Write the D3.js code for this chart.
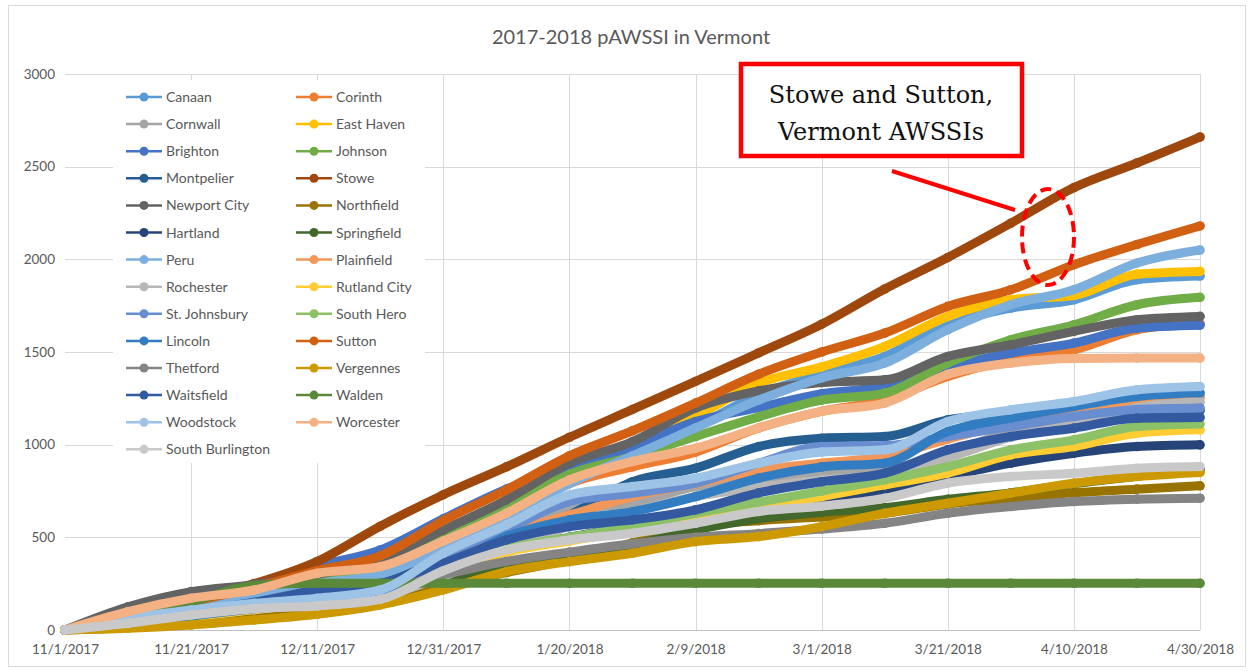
<!DOCTYPE html>
<html>
<head>
<meta charset="utf-8">
<script src="https://cdn.jsdelivr.net/npm/d3@7"></script>
<style>
  html, body { margin: 0; padding: 0; background: #fff; }
  svg { display: block; }
</style>
</head>
<body>
<svg id="chart" width="1252" height="671"></svg>
<script>
// ---------- DATA (every 10 days) ----------
const dates = ["2017-11-01","2017-11-11","2017-11-21","2017-12-01","2017-12-11","2017-12-21","2017-12-31",
  "2018-01-10","2018-01-20","2018-01-30","2018-02-09","2018-02-19","2018-03-01","2018-03-11","2018-03-21",
  "2018-03-31","2018-04-10","2018-04-20","2018-04-30"];

const canaan        = [0,60,130,200,270,330,480,650,830,960,1098,1270,1380,1476,1647,1737,1782,1890,1910];
const corinth       = [0,40,110,190,260,320,460,610,790,880,960,1090,1180,1240,1368,1458,1512,1620,1655];
const cornwall      = [0,40,80,120,160,200,300,500,648,684,774,810,840,864,954,1071,1134,1233,1255];
const eastHaven     = [0,70,150,220,290,360,520,690,870,1000,1152,1332,1420,1530,1692,1782,1805,1920,1935];
const brighton      = [0,70,150,240,345,432,600,760,880,990,1125,1200,1275,1314,1420,1494,1548,1629,1645];
const johnson       = [0,60,130,200,270,330,500,660,840,936,1044,1150,1240,1278,1440,1566,1647,1755,1795];
const montpelier    = [0,50,100,150,200,250,380,480,620,800,873,990,1035,1044,1134,1165,1175,1180,1185];
const stowe         = [0,85,170,250,370,560,730,880,1040,1190,1341,1495,1650,1840,2010,2195,2387,2520,2660];
const newportCity   = [0,125,207,245,300,380,540,702,900,1017,1197,1290,1335,1350,1476,1539,1611,1674,1692];
const northfield    = [0,15,45,85,120,170,240,310,380,470,560,590,610,630,680,710,740,760,778];
const hartland      = [0,45,90,140,190,230,340,440,500,560,610,650,700,756,828,900,954,990,999];
const springfield   = [0,30,70,150,200,240,280,340,400,460,540,600,635,660,705,740,790,830,865];
const peru          = [0,55,120,180,250,300,440,594,790,940,1090,1240,1360,1440,1620,1755,1836,1980,2050];
const plainfield    = [0,25,70,130,180,230,360,520,620,720,790,860,900,936,1030,1116,1180,1240,1270];
const rochester     = [0,30,70,110,140,180,290,430,560,640,720,770,810,840,930,1040,1110,1200,1230];
const rutlandCity   = [0,30,70,110,150,190,310,420,480,540,600,650,720,783,846,945,990,1062,1080];
const stJohnsbury   = [0,45,90,130,170,220,370,540,693,738,792,900,990,995,1044,1098,1152,1190,1198];
const southHero     = [0,30,75,120,160,200,330,440,500,560,630,690,750,810,882,972,1026,1098,1112];
const lincoln       = [0,35,75,115,150,200,330,504,594,639,720,820,880,900,1071,1143,1206,1260,1280];
const sutton        = [0,70,150,230,320,400,590,756,940,1075,1224,1380,1500,1602,1746,1836,1971,2080,2180];
const thetford      = [0,40,90,140,190,240,300,370,420,465,500,520,545,576,630,666,693,706,711];
const vergennes     = [0,10,27,54,85,135,216,315,369,414,477,504,558,630,684,738,792,828,850];
const waitsfield    = [0,50,100,150,216,252,360,486,558,594,648,740,800,846,972,1044,1089,1143,1147];
const walden        = [0,60,150,240,252,252,252,252,252,252,252,252,252,252,252,252,252,252,252];
const woodstock     = [0,63,108,144,171,216,414,567,729,774,819,900,960,972,1125,1188,1233,1296,1314];
const worcester     = [0,99,171,216,306,342,480,630,810,909,981,1090,1180,1224,1380,1440,1465,1467,1467];
const southBurlington = [0,36,81,115,130,165,320,432,486,522,576,639,668,711,792,828,846,873,882];

const seriesNames = ["Canaan","Corinth","Cornwall","East Haven","Brighton","Johnson","Montpelier","Stowe",
  "Newport City","Northfield","Hartland","Springfield","Peru","Plainfield","Rochester","Rutland City",
  "St. Johnsbury","South Hero","Lincoln","Sutton","Thetford","Vergennes","Waitsfield","Walden",
  "Woodstock","Worcester","South Burlington"];
const seriesValues = [canaan,corinth,cornwall,eastHaven,brighton,johnson,montpelier,stowe,newportCity,
  northfield,hartland,springfield,peru,plainfield,rochester,rutlandCity,stJohnsbury,southHero,lincoln,
  sutton,thetford,vergennes,waitsfield,walden,woodstock,worcester,southBurlington];
const seriesColors = ["#5B9BD5","#ED7D31","#A5A5A5","#FFC000","#4472C4","#70AD47","#255E91","#9E480E",
  "#636363","#997300","#264478","#43682B","#7CAFDD","#F1975A","#B7B7B7","#FFCD33","#698ED0","#8CC168",
  "#327DC2","#D26012","#848484","#CC9A00","#335AA1","#5A8A39","#9DC3E6","#F4B183","#C9C9C9"];

const xTickDates = ["2017-11-01","2017-11-21","2017-12-11","2017-12-31","2018-01-20","2018-02-09",
  "2018-03-01","2018-03-21","2018-04-10","2018-04-30"];
const xTickLabels = ["11/1/2017","11/21/2017","12/11/2017","12/31/2017","1/20/2018","2/9/2018",
  "3/1/2018","3/21/2018","4/10/2018","4/30/2018"];
const yTicks = [0,500,1000,1500,2000,2500,3000];
const yTickLabels = ["0","500","1000","1500","2000","2500","3000"];

const titleText = "2017-2018 pAWSSI in Vermont";
const noteLines = ["Stowe and Sutton,", "Vermont AWSSIs"];

// ---------- DRAW ----------
const parse = d3.utcParse("%Y-%m-%d");
const svg = d3.select("#chart");
const font = "Lato, 'Open Sans', sans-serif";
const textCol = "#595959";

const x = d3.scaleUtc().domain([parse("2017-11-01"), parse("2018-04-30")]).range([65, 1200]);
const y = d3.scaleLinear().domain([0, 3000]).range([630, 74]);

// outer chart border
svg.append("rect").attr("x", 8.5).attr("y", 5.5).attr("width", 1237).attr("height", 661)
  .attr("fill", "#fff").attr("stroke", "#D9D9D9").attr("stroke-width", 1);

// title
svg.append("text").attr("x", 631).attr("y", 44).attr("text-anchor", "middle")
  .attr("font-family", font).attr("font-size", 20).attr("fill", textCol).text(titleText);

// gridlines
const grid = svg.append("g");
grid.selectAll("line.h").data(yTicks.filter(d => d > 0)).join("line")
  .attr("x1", 65).attr("x2", 1200).attr("y1", d => Math.round(y(d)) + 0.5).attr("y2", d => Math.round(y(d)) + 0.5)
  .attr("stroke", "#D9D9D9").attr("stroke-width", 1);
grid.selectAll("line.v").data(xTickDates.slice(1)).join("line")
  .attr("x1", d => Math.round(x(parse(d))) + 0.5).attr("x2", d => Math.round(x(parse(d))) + 0.5)
  .attr("y1", 74).attr("y2", 630)
  .attr("stroke", "#D9D9D9").attr("stroke-width", 1);
// baseline axis
svg.append("line").attr("x1", 65).attr("x2", 1200).attr("y1", 630.5).attr("y2", 630.5)
  .attr("stroke", "#BFBFBF").attr("stroke-width", 1);

// y axis labels
const yAxis = d3.axisLeft(y).tickValues(yTicks).tickSize(0).tickPadding(10)
  .tickFormat((d, i) => yTickLabels[i]);
const gy = svg.append("g").attr("transform", "translate(65,0)").call(yAxis);
gy.select(".domain").remove();
gy.selectAll("text").attr("font-family", font).attr("font-size", 13.5).attr("fill", textCol);

// x axis labels
const xAxis = d3.axisBottom(x).tickValues(xTickDates.map(parse)).tickSize(0).tickPadding(14)
  .tickFormat((d, i) => xTickLabels[i]);
const gx = svg.append("g").attr("transform", "translate(0,630)").call(xAxis);
gx.select(".domain").remove();
gx.selectAll("text").attr("font-family", font).attr("font-size", 13.5).attr("fill", textCol);

// series
const line = d3.line().x(d => x(d.date)).y(d => y(d.value)).curve(d3.curveMonotoneX);
const series = seriesNames.map((name, i) => ({
  name, color: seriesColors[i],
  points: dates.map((dt, j) => ({ date: parse(dt), value: seriesValues[i][j] }))
}));
const gs = svg.append("g");
series.forEach(s => {
  const g = gs.append("g");
  g.append("path").attr("d", line(s.points)).attr("fill", "none")
    .attr("stroke", s.color).attr("stroke-width", 9)
    .attr("stroke-linejoin", "round").attr("stroke-linecap", "round");
  g.selectAll("circle").data(s.points).join("circle")
    .attr("cx", d => x(d.date)).attr("cy", d => y(d.value)).attr("r", 4.8)
    .attr("fill", s.color);
});

// legend
const lg = svg.append("g");
lg.append("rect").attr("x", 113).attr("y", 80).attr("width", 312).attr("height", 383).attr("fill", "#fff");
series.forEach((s, i) => {
  const row = Math.floor(i / 2), col = i % 2;
  const lx = col === 0 ? 126 : 296;
  const ly = 97 + row * 27.1;
  lg.append("line").attr("x1", lx).attr("x2", lx + 36).attr("y1", ly).attr("y2", ly)
    .attr("stroke", s.color).attr("stroke-width", 2.5);
  lg.append("circle").attr("cx", lx + 18).attr("cy", ly).attr("r", 4.5).attr("fill", s.color);
  lg.append("text").attr("x", lx + 40).attr("y", ly + 5).attr("font-family", font)
    .attr("font-size", 14).attr("fill", textCol).text(s.name);
});

// annotation
const ann = svg.append("g");
ann.append("line").attr("x1", 892).attr("y1", 171).attr("x2", 1015).attr("y2", 210)
  .attr("stroke", "#FF0000").attr("stroke-width", 4);
ann.append("ellipse").attr("cx", 1048).attr("cy", 237).attr("rx", 26).attr("ry", 48)
  .attr("fill", "none").attr("stroke", "#FF0000").attr("stroke-width", 4)
  .attr("stroke-dasharray", "11,6");
ann.append("rect").attr("x", 741).attr("y", 64).attr("width", 281).attr("height", 92)
  .attr("fill", "#fff").attr("stroke", "#FF0000").attr("stroke-width", 4.5);
ann.selectAll("text").data(noteLines).join("text")
  .attr("x", 881).attr("y", (d, i) => 103 + i * 37).attr("text-anchor", "middle")
  .attr("font-family", "'DejaVu Serif', 'Liberation Serif', serif").attr("font-size", 24)
  .attr("fill", "#111").text(d => d);
</script>
</body>
</html>
